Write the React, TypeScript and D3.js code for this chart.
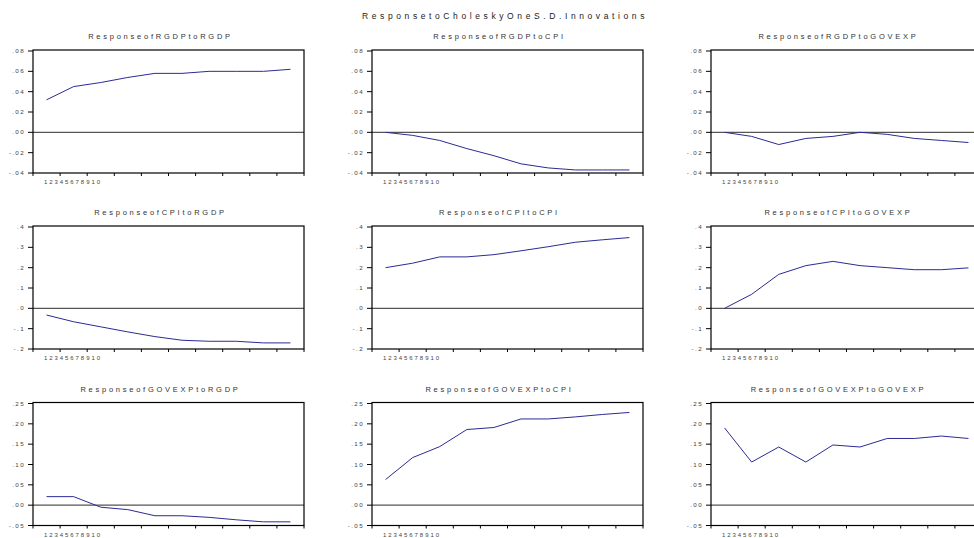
import React, { useEffect, useRef } from 'react';
import * as d3 from 'd3';

const periods = [1, 2, 3, 4, 5, 6, 7, 8, 9, 10];
const variables = ['RGDP', 'CPI', 'GOVEXP'];

// responses, row = responding variable, column = shock
const rgdpToRgdp = [0.032, 0.045, 0.049, 0.054, 0.058, 0.058, 0.060, 0.060, 0.060, 0.062];
const rgdpToCpi = [0.000, -0.003, -0.008, -0.016, -0.023, -0.031, -0.035, -0.037, -0.037, -0.037];
const rgdpToGovexp = [0.000, -0.004, -0.012, -0.006, -0.004, 0.000, -0.002, -0.006, -0.008, -0.010];
const cpiToRgdp = [-0.033, -0.066, -0.091, -0.116, -0.139, -0.157, -0.162, -0.162, -0.170, -0.170];
const cpiToCpi = [0.200, 0.222, 0.253, 0.253, 0.264, 0.283, 0.303, 0.325, 0.337, 0.348];
const cpiToGovexp = [0.000, 0.069, 0.167, 0.210, 0.231, 0.210, 0.200, 0.190, 0.190, 0.199];
const govexpToRgdp = [0.021, 0.021, -0.005, -0.011, -0.026, -0.026, -0.030, -0.036, -0.041, -0.041];
const govexpToCpi = [0.063, 0.117, 0.144, 0.186, 0.191, 0.212, 0.212, 0.217, 0.223, 0.228];
const govexpToGovexp = [0.190, 0.106, 0.143, 0.106, 0.148, 0.143, 0.164, 0.164, 0.170, 0.164];

const rgdpTicks = [-0.04, -0.02, 0, 0.02, 0.04, 0.06, 0.08];
const rgdpTickLabels = ['-.04', '-.02', '.00', '.02', '.04', '.06', '.08'];
const cpiTicks = [-0.2, -0.1, 0, 0.1, 0.2, 0.3, 0.4];
const cpiTickLabels = ['-.2', '-.1', '.0', '.1', '.2', '.3', '.4'];
const govexpTicks = [-0.05, 0, 0.05, 0.10, 0.15, 0.20, 0.25];
const govexpTickLabels = ['-.05', '.00', '.05', '.10', '.15', '.20', '.25'];

const rows = [
    { series: [rgdpToRgdp, rgdpToCpi, rgdpToGovexp], ticks: rgdpTicks, labels: rgdpTickLabels },
    { series: [cpiToRgdp, cpiToCpi, cpiToGovexp], ticks: cpiTicks, labels: cpiTickLabels },
    { series: [govexpToRgdp, govexpToCpi, govexpToGovexp], ticks: govexpTicks, labels: govexpTickLabels },
];

const FONT = '"Liberation Sans", Arial, sans-serif';

const App = () => {
    const svgRef = useRef<SVGSVGElement>(null);

    useEffect(() => {
        const svg = d3.select(svgRef.current);
        svg.selectAll('*').remove();

        const width = 974;
        const height = 538;
        const colLeft = [33, 372, 711];
        const plotW = 271;
        const rowTop = [51, 227, 403.5];
        const plotH = 122;

        svg.append('rect').attr('width', width).attr('height', height).attr('fill', '#fff');

        svg.append('text')
            .attr('x', 505)
            .attr('y', 19)
            .attr('text-anchor', 'middle')
            .attr('font-family', FONT)
            .attr('font-size', 8.5)
            .attr('letter-spacing', 3.6)
            .attr('fill', '#222')
            .text('ResponsetoCholeskyOneS.D.Innovations');

        rows.forEach((row, r) => {
            row.series.forEach((values, c) => {
                const left = colLeft[c];
                const top = rowTop[r];
                const g = svg.append('g').attr('transform', `translate(${left},${top})`);

                const x = d3.scaleBand<number>().domain(periods).range([0, plotW]);
                const y = d3.scaleLinear()
                    .domain([row.ticks[0], row.ticks[row.ticks.length - 1]])
                    .range([plotH, 0]);

                // panel title
                g.append('text')
                    .attr('x', plotW / 2 - 8)
                    .attr('y', -12)
                    .attr('text-anchor', 'middle')
                    .attr('font-family', FONT)
                    .attr('font-size', 7.5)
                    .attr('letter-spacing', 2.75)
                    .attr('fill', '#333')
                    .text(`Responseof${variables[r]}to${variables[c]}`);

                // y ticks
                const yTicks = g.append('g');
                row.ticks.forEach((t, i) => {
                    yTicks.append('line')
                        .attr('x1', -5).attr('x2', 0)
                        .attr('y1', y(t)).attr('y2', y(t))
                        .attr('stroke', '#000').attr('stroke-width', 1);
                    yTicks.append('text')
                        .attr('x', -8)
                        .attr('y', y(t) + 2)
                        .attr('text-anchor', 'end')
                        .attr('font-family', FONT)
                        .attr('font-size', 6.2)
                        .attr('letter-spacing', 1.4)
                        .attr('fill', '#444')
                        .text(row.labels[i]);
                });

                // x ticks on band edges
                const edges = periods.map(p => x(p) as number).concat(plotW);
                edges.forEach(e => {
                    g.append('line')
                        .attr('x1', e).attr('x2', e)
                        .attr('y1', plotH).attr('y2', plotH + 3)
                        .attr('stroke', '#000').attr('stroke-width', 1);
                });
                g.append('text')
                    .attr('x', 11)
                    .attr('y', plotH + 11)
                    .attr('font-family', FONT)
                    .attr('font-size', 6)
                    .attr('textLength', 56)
                    .attr('lengthAdjust', 'spacing')
                    .attr('fill', '#444')
                    .text(periods.join(''));

                // zero line
                g.append('line')
                    .attr('x1', 0).attr('x2', plotW)
                    .attr('y1', y(0)).attr('y2', y(0))
                    .attr('stroke', '#555').attr('stroke-width', 1.4);

                // response line
                const line = d3.line<number>()
                    .x((_, i) => (x(periods[i]) as number) + x.bandwidth() / 2)
                    .y(d => y(d));
                g.append('path')
                    .datum(values)
                    .attr('d', line)
                    .attr('fill', 'none')
                    .attr('stroke', '#2b2b95')
                    .attr('stroke-width', 1);

                // frame
                g.append('rect')
                    .attr('x', 0).attr('y', -1)
                    .attr('width', plotW).attr('height', plotH + 1)
                    .attr('fill', 'none')
                    .attr('stroke', '#000')
                    .attr('stroke-width', 1.2);
            });
        });
    }, []);

    return (
        <svg ref={svgRef} width={974} height={538}
            style={{ position: 'absolute', left: 0, top: 0, display: 'block' }} />
    );
};

export default App;
